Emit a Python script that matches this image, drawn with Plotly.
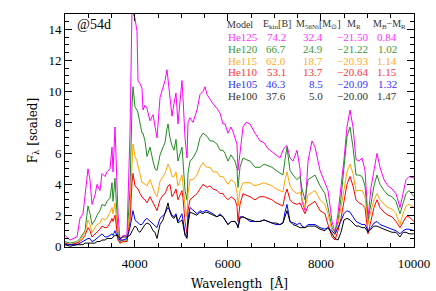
import plotly.graph_objects as go

# ---------------- data ----------------
wavelength = [2500, 2607, 2758, 2822, 2887, 2930, 2994, 3037, 3080, 3145,
              3188, 3252, 3295, 3360, 3403, 3467, 3510, 3532, 3575, 3639,
              3682, 3746, 3832, 3897, 3940, 3961, 4004, 4047, 4069, 4112,
              4155, 4176, 4219, 4262, 4327, 4391, 4434, 4477, 4542, 4606,
              4649, 4692, 4714, 4756, 4799, 4842, 4885, 4928, 4971, 5014,
              5036, 5079, 5122, 5143, 5186, 5251, 5337, 5401, 5466, 5509,
              5552, 5616, 5681, 5766, 5831, 5895, 5938, 6003, 6067, 6110,
              6153, 6196, 6218, 6261, 6325, 6390, 6476, 6583, 6691, 6777,
              6862, 6948, 7034, 7120, 7184, 7228, 7271, 7335, 7400, 7486,
              7550, 7593, 7658, 7722, 7808, 7873, 7980, 8087, 8152, 8238,
              8302, 8367, 8431, 8496, 8560, 8625, 8689, 8754, 8818, 8883,
              8947, 9011, 9076, 9140, 9205, 9269, 9355, 9441, 9527, 9613,
              9699, 9764, 9828, 9893, 10000]

flux_he125 = [0.7, 0.4, 0.6, 1.8, 2.1, 3.3, 5.0, 4.3, 2.7, 3.3,
              4.0, 3.6, 4.7, 4.5, 4.8, 5.0, 6.4, 4.8, 7.7, 2.1,
              0.4, 0.7, 0.7, 7.3, 15.4, 15.1, 14.7, 13.9, 10.7, 10.5,
              10.2, 8.8, 9.1, 8.9, 8.1, 8.5, 7.6, 7.0, 9.6, 10.2,
              10.7, 11.4, 10.7, 9.8, 8.4, 9.2, 9.9, 7.9, 9.6, 10.7,
              9.6, 7.0, 5.7, 8.0, 8.3, 8.0, 8.8, 9.8, 10.0, 10.3,
              9.8, 9.5, 9.2, 8.9, 8.6, 7.9, 7.9, 7.3, 7.7, 7.4,
              7.0, 6.6, 4.9, 6.2, 7.7, 8.0, 7.9, 7.3, 6.8, 6.7,
              6.3, 6.1, 5.9, 5.7, 6.2, 6.4, 6.5, 5.7, 5.5, 6.2,
              5.0, 2.9, 2.3, 5.5, 6.8, 6.4, 4.9, 4.1, 3.6, 1.6,
              0.9, 2.1, 3.7, 5.6, 7.7, 8.8, 7.7, 5.6, 5.5, 5.7,
              4.9, 1.8, 3.8, 5.0, 6.0, 5.1, 4.3, 3.9, 3.7, 3.4,
              2.5, 3.4, 4.3, 4.5, 4.4]

flux_he120 = [0.3, 0.2, 0.3, 0.5, 0.8, 1.0, 2.6, 2.1, 1.4, 1.7,
              2.0, 2.3, 2.7, 2.6, 2.9, 3.1, 4.1, 2.9, 4.4, 0.9,
              0.3, 0.4, 0.4, 3.7, 9.0, 10.3, 9.0, 8.8, 8.6, 7.8,
              7.3, 7.3, 6.8, 5.8, 6.4, 5.5, 5.0, 4.9, 5.9, 6.4,
              6.7, 7.6, 7.9, 7.0, 6.5, 6.2, 6.9, 5.5, 6.0, 6.4,
              5.5, 3.6, 3.0, 4.7, 5.5, 5.7, 6.2, 7.0, 7.3, 7.2,
              7.1, 6.8, 6.8, 6.6, 6.2, 6.2, 6.0, 5.5, 5.9, 5.7,
              5.5, 5.0, 3.8, 5.1, 5.7, 5.6, 5.5, 5.1, 5.1, 5.3,
              5.2, 5.1, 4.9, 4.7, 4.6, 5.6, 6.4, 4.9, 4.6, 4.3,
              4.5, 3.7, 3.0, 4.3, 4.5, 4.6, 3.9, 3.4, 2.5, 1.2,
              0.9, 1.6, 3.1, 5.0, 7.1, 7.7, 6.4, 4.6, 4.6, 4.5,
              3.9, 1.6, 2.7, 3.9, 4.6, 4.0, 3.6, 3.3, 3.2, 2.9,
              2.1, 2.7, 3.4, 3.6, 3.2]

flux_he115 = [0.2, 0.1, 0.2, 0.4, 0.7, 0.9, 1.7, 1.4, 0.9, 1.2,
              1.4, 1.5, 1.8, 1.7, 1.8, 2.2, 2.5, 2.1, 2.8, 0.6,
              0.2, 0.3, 0.3, 2.5, 5.6, 6.6, 5.8, 5.5, 5.2, 4.7,
              4.1, 4.1, 4.0, 3.9, 4.3, 3.7, 3.4, 3.2, 4.2, 4.5,
              4.7, 5.1, 5.3, 5.0, 4.5, 4.5, 4.8, 3.9, 4.3, 4.6,
              4.0, 2.6, 1.9, 3.4, 4.3, 4.3, 4.6, 5.1, 5.4, 5.2,
              5.1, 5.1, 4.8, 4.8, 4.5, 4.5, 4.3, 4.0, 4.3, 4.2,
              4.1, 3.5, 2.6, 3.6, 4.1, 4.1, 4.1, 3.9, 4.0, 4.1,
              4.0, 3.9, 3.7, 3.6, 3.5, 4.3, 4.8, 3.9, 3.6, 3.4,
              3.5, 3.1, 2.5, 3.3, 3.5, 3.6, 3.0, 2.7, 2.1, 1.0,
              0.7, 1.4, 2.5, 3.7, 4.8, 5.3, 4.7, 3.6, 3.6, 3.6,
              3.2, 1.4, 2.3, 3.0, 3.4, 3.0, 2.7, 2.5, 2.4, 2.1,
              1.4, 2.1, 2.6, 2.7, 2.5]

flux_he110 = [0.2, 0.1, 0.2, 0.3, 0.5, 0.7, 1.2, 1.0, 0.6, 0.8,
              0.9, 1.1, 1.3, 1.2, 1.2, 1.5, 1.8, 1.6, 2.0, 0.4,
              0.2, 0.3, 0.3, 1.6, 4.1, 4.7, 3.9, 3.8, 3.7, 3.4,
              3.2, 3.1, 3.0, 2.8, 3.2, 2.8, 2.5, 2.3, 3.0, 3.3,
              3.4, 3.7, 3.9, 4.0, 3.2, 3.4, 3.7, 3.0, 3.3, 3.6,
              3.1, 1.6, 0.8, 2.3, 3.0, 3.2, 3.4, 3.7, 4.0, 3.9,
              3.8, 3.9, 3.7, 3.6, 3.4, 3.4, 3.2, 3.0, 3.2, 3.1,
              3.0, 2.6, 1.6, 2.7, 3.4, 3.3, 3.2, 3.0, 3.2, 3.2,
              3.1, 3.0, 2.8, 2.7, 2.6, 3.3, 3.7, 3.0, 2.8, 2.7,
              2.8, 2.5, 2.1, 2.6, 2.8, 2.9, 2.3, 2.1, 1.4, 0.6,
              0.4, 1.0, 1.8, 2.9, 4.0, 4.5, 3.9, 3.0, 2.8, 2.7,
              2.5, 0.8, 1.6, 2.5, 3.0, 2.5, 2.2, 2.0, 1.9, 1.6,
              1.2, 1.6, 1.9, 1.9, 1.6]

flux_he105 = [0.1, 0.1, 0.1, 0.2, 0.3, 0.4, 0.5, 0.5, 0.3, 0.4,
              0.5, 0.7, 0.8, 0.6, 0.6, 0.7, 0.8, 0.7, 1.0, 0.5,
              0.4, 0.4, 0.5, 1.2, 2.1, 2.3, 1.7, 1.6, 1.5, 1.4,
              1.4, 1.5, 1.7, 1.8, 1.6, 1.4, 1.3, 1.2, 1.8, 2.0,
              2.1, 2.4, 2.5, 2.3, 2.0, 1.9, 2.1, 1.6, 1.9, 2.1,
              1.7, 0.8, 0.6, 1.7, 2.5, 2.3, 2.1, 2.3, 2.2, 2.3,
              2.3, 2.2, 2.1, 1.9, 2.1, 1.9, 1.7, 1.4, 1.6, 1.6,
              1.6, 1.4, 1.2, 1.9, 1.9, 1.8, 1.6, 1.6, 1.6, 1.7,
              1.6, 1.5, 1.4, 1.4, 1.5, 2.2, 2.7, 1.6, 1.5, 1.4,
              1.5, 1.3, 1.2, 1.4, 1.4, 1.4, 1.2, 1.1, 1.2, 1.0,
              0.8, 1.2, 1.7, 2.1, 2.3, 2.2, 1.9, 1.6, 1.5, 1.4,
              1.4, 1.0, 1.2, 1.5, 1.6, 1.4, 1.3, 1.2, 1.1, 1.0,
              0.8, 1.0, 1.1, 1.1, 1.0]

flux_he100 = [0.1, 0.0, 0.1, 0.1, 0.1, 0.2, 0.2, 0.2, 0.2, 0.2,
              0.3, 0.3, 0.4, 0.4, 0.5, 0.5, 0.5, 0.6, 0.7, 0.7,
              0.5, 0.6, 0.6, 0.7, 1.0, 1.1, 1.3, 1.2, 1.0, 0.9,
              1.1, 1.2, 1.4, 1.5, 1.4, 1.0, 0.9, 0.5, 1.4, 1.7,
              2.1, 2.6, 2.8, 2.2, 1.9, 1.8, 2.0, 1.5, 1.6, 1.7,
              1.4, 0.7, 0.5, 1.4, 2.2, 2.1, 2.0, 2.2, 2.1, 2.2,
              2.2, 2.1, 2.0, 1.9, 2.0, 1.9, 1.7, 1.4, 1.6, 1.6,
              1.6, 1.4, 1.2, 1.8, 1.9, 1.8, 1.7, 1.6, 1.6, 1.7,
              1.6, 1.5, 1.5, 1.4, 1.5, 2.0, 2.3, 1.6, 1.4, 1.3,
              1.2, 1.2, 1.2, 1.3, 1.3, 1.3, 1.1, 1.0, 1.2, 0.8,
              0.5, 0.4, 0.9, 1.7, 1.8, 1.7, 1.5, 1.3, 1.3, 1.2,
              1.2, 0.9, 1.1, 1.3, 1.3, 1.2, 1.1, 1.0, 0.9, 0.9,
              0.6, 0.9, 0.9, 0.8, 0.8]

models = ["He125", "He120", "He115", "He110", "He105", "He100"]
ekin = ["74.2", "66.7", "62.0", "53.1", "46.3", "37.6"]
mni = ["32.4", "24.9", "18.7", "13.7", "8.5", "5.0"]
mr = ["\u221221.50", "\u221221.22", "\u221220.93", "\u221220.64", "\u221220.09", "\u221220.00"]
mbmr = ["0.84", "1.02", "1.14", "1.15", "1.32", "1.47"]
colors = ["#ff00ff", "#228b22", "#ffa500", "#ff0000", "#0000ff", "#000000"]
fluxes = [flux_he125, flux_he120, flux_he115, flux_he110, flux_he105, flux_he100]

# ---------------- figure ----------------
fig = go.Figure()
for name, f, c in zip(models, fluxes, colors):
    fig.add_trace(go.Scatter(x=wavelength, y=f, mode="lines", name=name,
                             line=dict(color=c, width=1), showlegend=False))

W, H = 436, 291
L, R, T, B = 65, 22, 14, 44
pw, ph = W - L - R, H - T - B


def px(x):
    return (x - L) / pw


def py(y):
    return (H - B - y) / ph


serif = "Liberation Serif, Times New Roman, serif"
tick_font = dict(family=serif, size=13, color="black")
title_font = dict(family="DejaVu Serif, serif", size=12, color="black")

ann = []
ann.append(dict(x=px(76), y=py(25), text="@54d", xanchor="left", yanchor="middle",
                font=dict(family=serif, size=14, color="black")))

# table header
hdr_y = py(25)
hdr_font = dict(family=serif, size=10, color="#333333")
ann.append(dict(x=px(226), y=hdr_y, text="Model", xanchor="left", yanchor="middle", font=hdr_font))
ann.append(dict(x=px(277), y=hdr_y, text="E<sub>kin</sub>[B]", xanchor="center", yanchor="middle", font=hdr_font))
ann.append(dict(x=px(318), y=hdr_y, text="M<sub>56Ni</sub>[M<sub>\u2299</sub>]", xanchor="center", yanchor="middle", font=hdr_font))
ann.append(dict(x=px(354), y=hdr_y, text="M<sub>R</sub>", xanchor="center", yanchor="middle", font=hdr_font))
ann.append(dict(x=px(389), y=hdr_y, text="M<sub>B</sub>\u2212M<sub>R</sub>", xanchor="center", yanchor="middle", font=hdr_font))

row_py = [37.3, 49.0, 60.7, 72.2, 83.8, 95.6]
text_colors = ["#ff33ff", "#3a9a3a", "#ffae1a", "#ff3333", "#3333ff", "#333333"]
for i in range(len(models)):
    yy = py(row_py[i])
    fnt = dict(family=serif, size=11, color=text_colors[i])
    ann.append(dict(x=px(227), y=yy, text=models[i], xanchor="left", yanchor="middle", font=fnt))
    ann.append(dict(x=px(287), y=yy, text=ekin[i], xanchor="right", yanchor="middle", font=fnt))
    ann.append(dict(x=px(324), y=yy, text=mni[i], xanchor="right", yanchor="middle", font=fnt))
    ann.append(dict(x=px(369), y=yy, text=mr[i], xanchor="right", yanchor="middle", font=fnt))
    ann.append(dict(x=px(398), y=yy, text=mbmr[i], xanchor="right", yanchor="middle", font=fnt))

for a in ann:
    a.update(xref="paper", yref="paper", showarrow=False, borderpad=0)

fig.update_layout(
    template="none",
    width=W, height=H,
    margin=dict(l=L, r=R, t=T, b=B, pad=0, autoexpand=False),
    paper_bgcolor="white", plot_bgcolor="white",
    annotations=ann,
    xaxis=dict(range=[2500, 10000], tick0=4000, dtick=2000, tickformat="d",
               ticks="inside", ticklen=7, automargin=False, ticklabelstandoff=4,
               tickcolor="black", tickwidth=1, showline=True, linecolor="black", linewidth=1,
               mirror="ticks", showgrid=False, zeroline=False, tickfont=tick_font,
               minor=dict(dtick=500, ticks="inside", ticklen=4, tickcolor="black", showgrid=False),
               title=dict(text="Wavelength\u00a0\u00a0[\u00c5]", font=title_font, standoff=12)),
    yaxis=dict(range=[-0.05, 15], tick0=0, dtick=2, ticks="inside", ticklen=7, automargin=False,
               tickcolor="black", tickwidth=1, showline=True, linecolor="black", linewidth=1,
               mirror="ticks", showgrid=False, zeroline=False, tickfont=tick_font,
               minor=dict(dtick=0.5, ticks="inside", ticklen=4, tickcolor="black", showgrid=False),
               title=dict(text="F<sub>\u03bb</sub> [scaled]", font=title_font, standoff=8)),
)

fig.write_html("out.html", config={"displayModeBar": False},
               post_script="document.body.style.margin='0px';document.body.style.overflow='hidden';")
